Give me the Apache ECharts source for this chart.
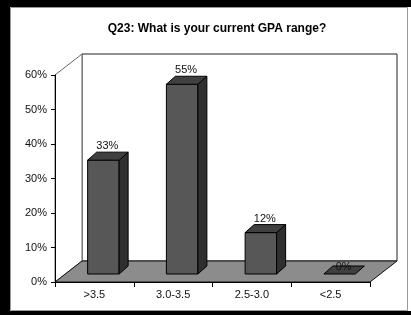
<!DOCTYPE html>
<html>
<head>
<meta charset="utf-8">
<script src="https://cdn.jsdelivr.net/npm/echarts@6/dist/echarts.min.js"></script>
<style>
  html, body { margin: 0; padding: 0; background: #fff; }
  #chart { width: 411px; height: 315px; }
</style>
</head>
<body>
<div id="chart"></div>
<script>
// GPA survey, Q23
var categories = ['>3.5', '3.0-3.5', '2.5-3.0', '<2.5'];
var shares = [0.33, 0.55, 0.12, 0];
var yTicks = [0, 0.1, 0.2, 0.3, 0.4, 0.5, 0.6];

var FONT = 'Arial, "Liberation Sans", sans-serif';

function pct(v) {
    return Math.round(v * 100) + '%';
}

// back wall + side wall + floor
function renderFrame(params, api) {
    var cs = params.coordSys;
    var x0 = cs.x, x1 = cs.x + cs.width;
    var y0 = api.coord([0, 0])[1];
    var yTop = api.coord([0, yTicks[yTicks.length - 1]])[1];
    var dx = 27, dy = 21;
    return {
        type: 'group',
        children: [
            {
                type: 'rect',
                shape: { x: x0 + dx, y: yTop - dy, width: x1 - x0, height: y0 - yTop },
                style: { fill: '#fff', stroke: '#222', lineWidth: 1 }
            },
            {
                type: 'polygon',
                shape: { points: [[x0, y0], [x0, yTop], [x0 + dx, yTop - dy], [x0 + dx, y0 - dy]] },
                style: { fill: '#fff', stroke: '#666', lineWidth: 1 }
            },
            {
                type: 'polygon',
                shape: { points: [[x0, y0], [x1, y0], [x1 + dx, y0 - dy], [x0 + dx, y0 - dy]] },
                style: { fill: '#8c8c8c', stroke: '#111', lineWidth: 1 }
            }
        ]
    };
}

// 3d-ish bar: front, top, side
function renderBar(params, api) {
    var i = api.value(0);
    var v = api.value(1);
    var top = api.coord([i, v]);
    var base = api.coord([i, 0]);
    var band = api.size([1, 0])[0];
    var w = band * 0.4;
    var ox = 9, oy = 8;      // bar sits in the middle of the floor depth
    var bx = 9, by = 8;      // depth of the bar itself
    var cx = top[0] + ox;
    var L = cx - w / 2, R = cx + w / 2;
    var tY = top[1] - oy, bY = base[1] - oy;
    var h = bY - tY;
    var edge = { stroke: '#000', lineWidth: 1 };
    var kids = [];
    if (h > 0) {
        kids.push({
            type: 'rect',
            shape: { x: L, y: tY, width: w, height: h },
            style: Object.assign({ fill: '#575757' }, edge)
        });
        kids.push({
            type: 'polygon',
            shape: { points: [[R, tY], [R + bx, tY - by], [R + bx, bY - by], [R, bY]] },
            style: Object.assign({ fill: '#2f2f2f' }, edge)
        });
    }
    kids.push({
        type: 'polygon',
        shape: { points: [[L, tY], [R, tY], [R + bx, tY - by], [L + bx, tY - by]] },
        style: Object.assign({ fill: '#404040' }, edge)
    });
    kids.push({
        type: 'text',
        style: {
            text: pct(v),
            x: cx + 4,
            y: tY - Math.min(14, 7 + h),
            align: 'center',
            verticalAlign: 'middle',
            fill: '#111',
            font: '11px ' + FONT
        }
    });
    return { type: 'group', children: kids };
}

var chart = echarts.init(document.getElementById('chart'));

var option = {
    backgroundColor: '#fff',
    animation: false,
    title: {
        text: 'Q23: What is your current GPA range?',
        left: 212,
        top: 18,
        textAlign: 'center',
        textStyle: { fontFamily: FONT, fontSize: 12, fontWeight: 'bold', color: '#000' }
    },
    graphic: [
        { type: 'rect', shape: { x: 10.5, y: 7.5, width: 397, height: 303 }, style: { fill: 'none', stroke: '#999', lineWidth: 1 }, silent: true },
        { type: 'rect', shape: { x: 0, y: 0, width: 10, height: 315 }, style: { fill: '#000' }, silent: true },
        { type: 'rect', shape: { x: 0, y: 0, width: 411, height: 7 }, style: { fill: '#000' }, silent: true },
        { type: 'rect', shape: { x: 0, y: 311, width: 411, height: 4 }, style: { fill: '#000' }, silent: true }
    ],
    grid: {
        left: 55,
        right: 41,
        top: 75,
        bottom: 33,
        containLabel: false,
        outerBoundsMode: 'none'
    },
    xAxis: {
        type: 'category',
        data: categories,
        axisLine: { lineStyle: { color: '#000', width: 1 } },
        axisTick: { show: true, length: 5, lineStyle: { color: '#000' } },
        axisLabel: { margin: 7, color: '#111', fontFamily: FONT, fontSize: 11 },
        z: 10
    },
    yAxis: {
        type: 'value',
        min: 0,
        max: 0.6,
        interval: 0.1,
        splitLine: { show: false },
        axisLine: { show: true, lineStyle: { color: '#000', width: 1 } },
        axisTick: { show: true, length: 4, lineStyle: { color: '#000' } },
        axisLabel: { margin: 8, color: '#111', fontFamily: FONT, fontSize: 11, formatter: pct },
        z: 10
    },
    series: [
        {
            type: 'custom',
            name: 'frame',
            renderItem: renderFrame,
            data: [[0, 0]],
            silent: true,
            z: 1
        },
        {
            type: 'custom',
            name: 'GPA',
            renderItem: renderBar,
            encode: { x: 0, y: 1 },
            data: shares.map(function (v, i) { return [i, v]; }),
            z: 5
        }
    ]
};

chart.setOption(option);
</script>
</body>
</html>
